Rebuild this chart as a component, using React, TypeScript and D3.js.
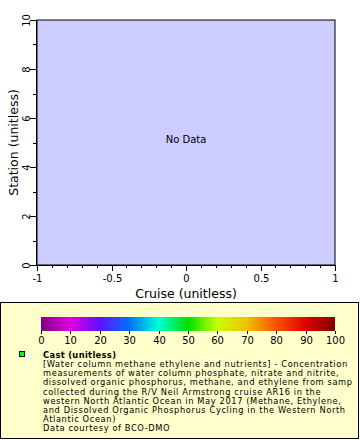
import React, { useEffect, useRef } from "react";
import * as d3 from "d3";

const xTicks = [-1, -0.5, 0, 0.5, 1];
const xMinor = [-0.9, -0.8, -0.7, -0.6, -0.4, -0.3, -0.2, -0.1, 0.1, 0.2, 0.3, 0.4, 0.6, 0.7, 0.8, 0.9];
const yTicks = [0, 2, 4, 6, 8, 10];
const yMinor = [1, 3, 5, 7, 9];
const cbTicks = [0, 10, 20, 30, 40, 50, 60, 70, 80, 90, 100];
const cbStops = [
  { v: 0, c: "#800080" },
  { v: 10, c: "#e000e0" },
  { v: 20, c: "#6010ff" },
  { v: 30, c: "#0070ff" },
  { v: 40, c: "#00ffd8" },
  { v: 50, c: "#00e000" },
  { v: 60, c: "#c8ff00" },
  { v: 70, c: "#f0c000" },
  { v: 80, c: "#ff5000" },
  { v: 90, c: "#e00000" },
  { v: 100, c: "#800000" },
];
const legendTitle = "Cast (unitless)";
const legendLines = [
  "[Water column methane ethylene and nutrients] - Concentration",
  "measurements of water column phosphate, nitrate and nitrite,",
  "dissolved organic phosphorus, methane, and ethylene from samp",
  "collected during the R/V Neil Armstrong cruise AR16 in the",
  "western North Atlantic Ocean in May 2017 (Methane, Ethylene,",
  "and Dissolved Organic Phosphorus Cycling in the Western North",
  "Atlantic Ocean)",
  "Data courtesy of BCO-DMO",
];

export default function App() {
  const ref = useRef<SVGSVGElement>(null);
  useEffect(() => {
    const svg = d3.select(ref.current);
    svg.selectAll("*").remove();
    const font = "DejaVu Sans, sans-serif";
    const x = d3.scaleLinear().domain([-1, 1]).range([37, 335]);
    const y = d3.scaleLinear().domain([0, 10]).range([265, 20]);

    svg.append("rect").attr("width", 360).attr("height", 440).attr("fill", "#ffffff");
    svg.append("rect")
      .attr("x", x(-1)).attr("y", y(10))
      .attr("width", x(1) - x(-1)).attr("height", y(0) - y(10))
      .attr("fill", "#ccccff").attr("stroke", "#000").attr("stroke-width", 1);

    // x axis
    const gx = svg.append("g");
    gx.append("line").attr("x1", x(-1)).attr("x2", x(1)).attr("y1", 265.5).attr("y2", 265.5).attr("stroke", "#000");
    xTicks.forEach((t) => {
      const px = Math.round(x(t)) + 0.5;
      gx.append("line").attr("x1", px).attr("x2", px).attr("y1", 265).attr("y2", 271).attr("stroke", "#000");
      gx.append("text").attr("x", px).attr("y", 282).attr("text-anchor", "middle")
        .attr("font-family", font).attr("font-size", 10).text(String(t));
    });
    xMinor.forEach((t) => {
      const px = Math.round(x(t)) + 0.5;
      gx.append("line").attr("x1", px).attr("x2", px).attr("y1", 265).attr("y2", 268).attr("stroke", "#000");
    });
    gx.append("text").attr("x", (x(-1) + x(1)) / 2).attr("y", 298).attr("text-anchor", "middle")
      .attr("font-family", font).attr("font-size", 12.5).text("Cruise (unitless)");

    // y axis
    const gy = svg.append("g");
    gy.append("line").attr("x1", 36.5).attr("x2", 36.5).attr("y1", y(10)).attr("y2", y(0)).attr("stroke", "#000");
    yTicks.forEach((t) => {
      const py = Math.round(y(t)) + 0.5;
      gy.append("line").attr("x1", 30).attr("x2", 37).attr("y1", py).attr("y2", py).attr("stroke", "#000");
      gy.append("text").attr("transform", `translate(30,${py}) rotate(-90)`).attr("text-anchor", "middle")
        .attr("font-family", font).attr("font-size", 10).text(String(t));
    });
    yMinor.forEach((t) => {
      const py = Math.round(y(t)) + 0.5;
      gy.append("line").attr("x1", 33).attr("x2", 37).attr("y1", py).attr("y2", py).attr("stroke", "#000");
    });
    gy.append("text").attr("transform", `translate(18,${(y(0) + y(10)) / 2}) rotate(-90)`).attr("text-anchor", "middle")
      .attr("font-family", font).attr("font-size", 12.5).text("Station (unitless)");

    svg.append("text").attr("x", (x(-1) + x(1)) / 2).attr("y", 143).attr("text-anchor", "middle")
      .attr("font-family", font).attr("font-size", 10).text("No Data");

    // legend box
    svg.append("rect").attr("x", 0.5).attr("y", 302.5).attr("width", 358).attr("height", 136)
      .attr("fill", "#ffffcc").attr("stroke", "#000").attr("stroke-width", 1);

    const cb = d3.scaleLinear().domain([0, 100]).range([41, 335]);
    const defs = svg.append("defs");
    const grad = defs.append("linearGradient").attr("id", "cbgrad").attr("x1", "0%").attr("x2", "100%");
    cbStops.forEach((s) => grad.append("stop").attr("offset", `${s.v}%`).attr("stop-color", s.c));
    svg.append("rect").attr("x", cb(0)).attr("y", 317).attr("width", cb(100) - cb(0)).attr("height", 14)
      .attr("fill", "url(#cbgrad)");
    cbTicks.forEach((t) => {
      const px = Math.round(cb(t)) + 0.5;
      svg.append("line").attr("x1", px).attr("x2", px).attr("y1", 331).attr("y2", 334).attr("stroke", "#000");
      svg.append("text").attr("x", px).attr("y", 344).attr("text-anchor", "middle")
        .attr("font-family", font).attr("font-size", 10).text(String(t));
    });

    svg.append("rect").attr("x", 19.5).attr("y", 351.5).attr("width", 5).attr("height", 5)
      .attr("fill", "#00ff00").attr("stroke", "#000");
    const lg = svg.append("g");
    lg.append("text").attr("x", 43).attr("y", 357.5).attr("font-family", font).attr("font-size", 8.3)
      .attr("letter-spacing", 0.35).attr("font-weight", "bold").text(legendTitle);
    legendLines.forEach((l, i) => {
      lg.append("text").attr("x", 43).attr("y", 367 + i * 9.2).attr("font-family", font).attr("font-size", 8.3)
        .attr("letter-spacing", 0.6).text(l);
    });
  }, []);
  return <svg ref={ref} width={360} height={440} style={{ position: "absolute", left: 0, top: 0 }} />;
}
